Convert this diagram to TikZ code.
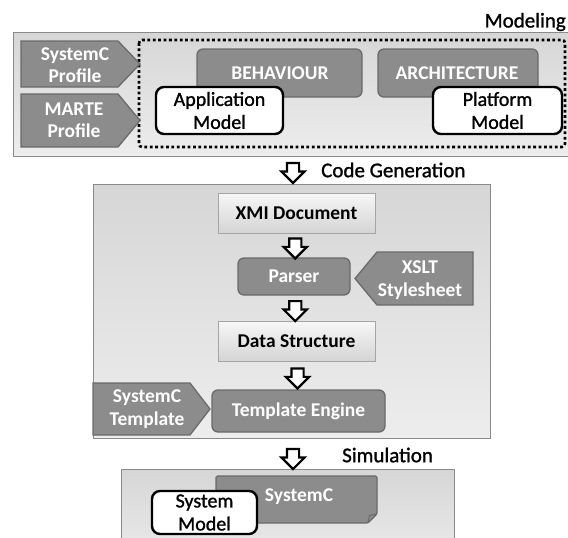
\documentclass[tikz,border=0pt]{standalone}
\usepackage{fontspec}
\setmainfont{Carlito}
\newfontfamily\heavyfont[FakeBold=1.2]{Carlito}
\usetikzlibrary{shapes.arrows,calc}
\definecolor{boxdark}{HTML}{8C8C8C}
\definecolor{boxdarkline}{HTML}{6A6A6A}
\definecolor{paneltop}{HTML}{D6D6D6}
\definecolor{panelbot}{HTML}{EDEDED}
\definecolor{panelline}{HTML}{8A8A8A}
\definecolor{lighttop}{HTML}{F7F7F7}
\definecolor{lightbot}{HTML}{D4D4D4}
\definecolor{lightline}{HTML}{A5A5A5}
\tikzset{
  panel/.style={draw=panelline, line width=1pt, top color=paneltop, bottom color=panelbot, inner sep=0pt},
  darkbox/.style={draw=boxdarkline, fill=boxdark, line width=1.3pt, rounded corners=6pt, text=white,
    font=\fontsize{19.5}{22}\selectfont\bfseries, inner sep=0pt, align=center},
  lightbox/.style={draw=lightline, line width=1pt, top color=lighttop, bottom color=lightbot, text=black,
    font=\fontsize{19.5}{22}\selectfont\bfseries, inner sep=0pt, align=center},
  modelbox/.style={draw=black, fill=white, line width=2.4pt, rounded corners=8pt, text=black,
    font=\heavyfont\fontsize{20}{23}\selectfont, inner sep=0pt, align=center},
  tagshape/.style={draw=boxdarkline, fill=boxdark, line width=1.3pt},
  tagtext/.style={text=white, font=\fontsize{19.5}{22.5}\selectfont\bfseries, align=center, inner sep=0pt},
  steplabel/.style={font=\heavyfont\fontsize{21}{24}\selectfont, inner sep=0pt},
  blockarrow/.style={single arrow, draw=black, fill=white, line width=2.2pt, shape border rotate=270,
    minimum height=20pt, single arrow head extend=5.5pt, inner sep=5pt},
}
\begin{document}
\begin{tikzpicture}[x=1pt,y=1pt]
\useasboundingbox (0,0) rectangle (568,-538);
\begin{scope}
\clip (0,0) rectangle (568,-538);
% ---------- Modeling panel ----------
\node[panel, minimum width=556pt, minimum height=124pt] (modeling) at (291,-94) {};
\draw[line width=2.6pt, dash pattern=on 2.8pt off 2.6pt, rounded corners=3pt] (139,-40) rectangle (565,-147);
\node[steplabel, anchor=east] (modlbl) at (566,-22) {Modeling};

% tags
\draw[tagshape] (21,-41) -- (118,-41) -- (140,-64) -- (118,-87) -- (21,-87) -- cycle;
\node[tagtext] (sysprof) at (75,-65) {SystemC\\Profile};
\draw[tagshape] (21,-94) -- (118,-94) -- (140,-120.5) -- (118,-147) -- (21,-147) -- cycle;
\node[tagtext] (marte) at (74,-120) {MARTE\\Profile};

\node[darkbox, minimum width=165pt, minimum height=48pt] (beh) at (279.5,-73) {};
\node[text=white, font=\fontsize{19.5}{22}\selectfont\bfseries] (behlbl) at (280,-73) {BEHAVIOUR};
\node[darkbox, minimum width=160pt, minimum height=48pt] (arch) at (458,-73) {};
\node[text=white, font=\fontsize{19.5}{22}\selectfont\bfseries] (archlbl) at (457,-73) {ARCHITECTURE};
\node[modelbox, minimum width=127pt, minimum height=47pt] (appm) at (219.5,-110.5) {Application\\Model};
\node[modelbox, minimum width=129pt, minimum height=47pt] (platm) at (497.5,-110.5) {Platform\\Model};

% ---------- Code generation panel ----------
\node[panel, minimum width=397pt, minimum height=254pt] (codegen) at (291.5,-311) {};
\node[lightbox, minimum width=157pt, minimum height=40pt] (xmi) at (296.5,-213) {XMI Document};
\node[darkbox, minimum width=112pt, minimum height=37pt] (parser) at (294,-276.5) {Parser};
\node[lightbox, minimum width=157pt, minimum height=40pt] (data) at (296.5,-341) {Data Structure};
\node[darkbox, minimum width=173pt, minimum height=42pt] (tmpl) at (298.5,-411) {Template Engine};

\draw[tagshape] (355,-278.5) -- (377,-252) -- (473,-252) -- (473,-305) -- (377,-305) -- cycle;
\node[tagtext] (xslt) at (420,-280) {XSLT\\Stylesheet};
\draw[tagshape] (93,-383) -- (190,-383) -- (210,-409) -- (190,-435) -- (93,-435) -- cycle;
\node[tagtext] (sctmpl) at (147,-409) {SystemC\\Template};

% ---------- Simulation panel ----------
\node[panel, minimum width=333pt, minimum height=100pt] (sim) at (287.5,-519) {};
\draw[tagshape, rounded corners=1.5pt] (216,-476) -- (377,-476) -- (377,-514) -- (368,-523) -- (216,-523) -- cycle;
\draw[boxdarkline, line width=1pt] (368,-523) -- (369.5,-515.5) -- (377,-514);
\node[text=white, font=\fontsize{19.5}{22}\selectfont\bfseries, inner sep=0pt] (sysc) at (299,-497) {SystemC};
\node[modelbox, minimum width=105pt, minimum height=43pt] (sysm) at (204.5,-512.5) {System\\Model};
\end{scope}

% ---------- block arrows ----------
\node[blockarrow] (a0) at (293,-170) {};
\node[blockarrow] (a1) at ($(xmi.south)!0.5!(parser.north)$) {};
\node[blockarrow] (a2) at ($(parser.south)!0.5!(data.north)$) {};
\node[blockarrow] (a3) at ($(data.south)!0.5!(tmpl.north)$) {};
\node[blockarrow] (a4) at (293,-456) {};
\node[steplabel, anchor=west] (cglbl) at (321,-170) {Code Generation};
\node[steplabel, anchor=west] (simlbl) at (342,-455) {Simulation};
\end{tikzpicture}
\end{document}
